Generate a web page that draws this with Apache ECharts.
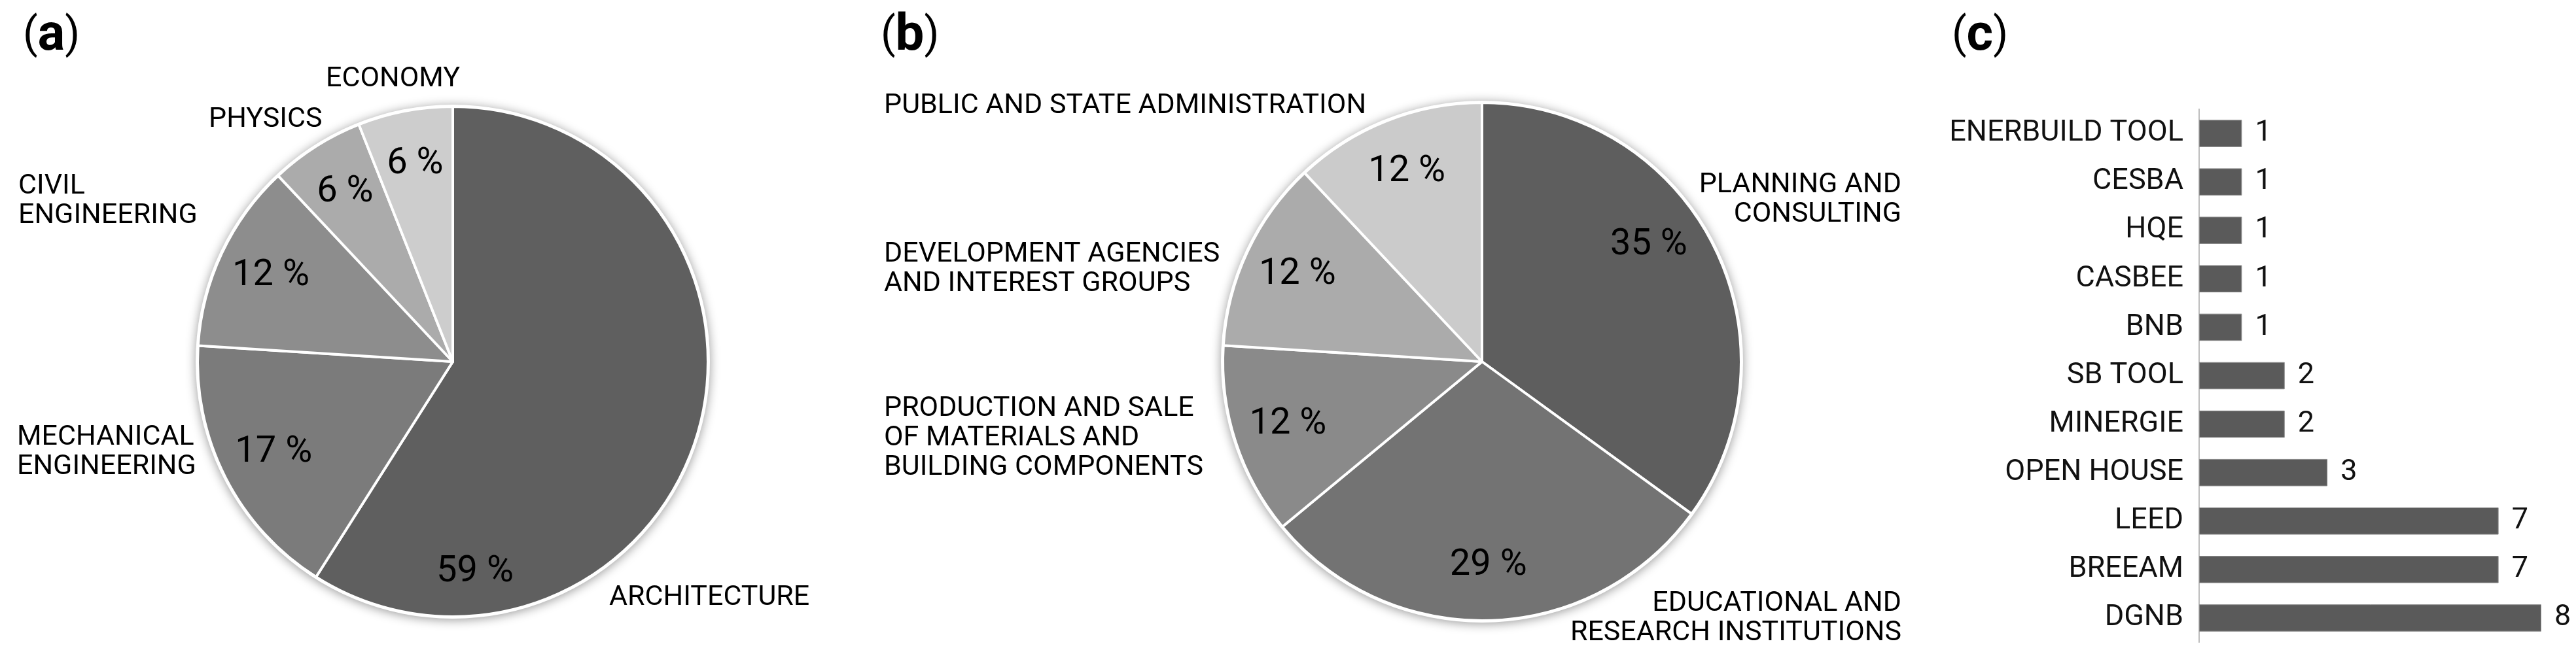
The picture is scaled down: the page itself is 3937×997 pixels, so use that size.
<!DOCTYPE html>
<html><head><meta charset="utf-8">
<script src="https://cdn.jsdelivr.net/npm/echarts@6/dist/echarts.min.js"></script>
<style>html,body{margin:0;padding:0;background:#fff}#c{width:3937px;height:997px}</style>
</head><body><div id="c"></div>
<script>
// ---- data ----
const fieldNames = ['ARCHITECTURE', 'MECHANICAL\nENGINEERING', 'CIVIL\nENGINEERING', 'PHYSICS', 'ECONOMY'];
const fieldShares = [59, 17, 12, 6, 6];
const sectorNames = ['PLANNING AND\nCONSULTING', 'EDUCATIONAL AND\nRESEARCH INSTITUTIONS',
  'PRODUCTION AND SALE\nOF MATERIALS AND\nBUILDING COMPONENTS', 'DEVELOPMENT AGENCIES\nAND INTEREST GROUPS',
  'PUBLIC AND STATE ADMINISTRATION'];
const sectorShares = [35, 29, 12, 12, 12];
const toolNames = ['ENERBUILD TOOL', 'CESBA', 'HQE', 'CASBEE', 'BNB', 'SB TOOL', 'MINERGIE', 'OPEN HOUSE', 'LEED', 'BREEAM', 'DGNB'];
const toolCounts = [1, 1, 1, 1, 1, 2, 2, 3, 7, 7, 8];
const panelLetters = ['a', 'b', 'c'];

// ---- layout / style ----
const FONT = 'Roboto, "Liberation Sans", Arial, sans-serif';
const pieA = {
  center: [692, 553], r: 390,
  colors: ['#5f5f5f', '#7b7b7b', '#8d8d8d', '#ababab', '#cdcdcd'],
  namePos: [[931, 914, 'left'], [26, 692, 'left'], [28, 308, 'left'], [319, 183, 'left'], [498, 121, 'left']],
  pctOffset: [[-261, 236], [0, 0], [0, 0], [0, 0], [0, 0]]
};
const pieB = {
  center: [2265, 553], r: 396,
  colors: ['#5e5e5e', '#737373', '#8a8a8a', '#ababab', '#cbcbcb'],
  namePos: [[2906, 306, 'right'], [2906, 946, 'right'], [1351, 670, 'left'], [1351, 412, 'left'], [1351, 162, 'left']],
  pctOffset: [[-23, -36], [0, 0], [0, 0], [0, 0], [0, 0]]
};
const titlePos = [[35, 56], [1346, 56], [2983, 56]];

function pieSeries(cfg, names, values) {
  const data = names.map((n, i) => ({ name: n, value: values[i], itemStyle: { color: cfg.colors[i] } }));
  return [
    { // backdrop with soft shadow
      type: 'pie', silent: true, center: cfg.center, radius: cfg.r + 3, startAngle: 90,
      data: [{ value: 1, name: '' }], label: { show: false }, labelLine: { show: false },
      itemStyle: { color: '#ffffff', shadowBlur: 16, shadowColor: 'rgba(0,0,0,0.40)', shadowOffsetY: 2 }
    },
    { // slices + category names
      type: 'pie', center: cfg.center, radius: cfg.r, startAngle: 90, clockwise: true,
      avoidLabelOverlap: false, data: data,
      itemStyle: { borderColor: '#ffffff', borderWidth: 4 },
      label: { show: true, position: 'outside', formatter: '{b}', fontFamily: FONT, fontSize: 43, lineHeight: 45, color: '#000' },
      labelLine: { show: false },
      labelLayout: p => { const q = cfg.namePos[p.dataIndex]; return { x: q[0], y: q[1], align: q[2], verticalAlign: 'middle' }; },
      emphasis: { disabled: true }
    },
    { // percentage labels
      type: 'pie', silent: true, center: cfg.center, radius: [cfg.r * 0.56, cfg.r], startAngle: 90, clockwise: true,
      avoidLabelOverlap: false, data: names.map((n, i) => ({ name: n, value: values[i] })),
      itemStyle: { color: 'rgba(0,0,0,0)', borderWidth: 0 },
      label: { show: true, position: 'inside', formatter: '{c} %', fontFamily: FONT, fontSize: 56, color: '#000' },
      labelLine: { show: false },
      labelLayout: p => { const o = cfg.pctOffset[p.dataIndex]; return { dx: o[0], dy: o[1] }; },
      emphasis: { disabled: true }
    }
  ];
}

const chart = echarts.init(document.getElementById('c'), null, { renderer: 'canvas' });
chart.setOption({
  backgroundColor: '#ffffff',
  animation: false,
  textStyle: { fontFamily: FONT },
  graphic: panelLetters.map((l, i) => ({
    type: 'text', x: titlePos[i][0], y: titlePos[i][1],
    style: {
      text: '{p|(}{b|' + l + '}{p|)}', align: 'left', verticalAlign: 'middle',
      rich: {
        p: { fontSize: 66, fontFamily: FONT, fill: '#000', fontWeight: 'normal' },
        b: { fontSize: 78, fontFamily: FONT, fill: '#000', fontWeight: 'bold' }
      }
    }
  })),
  grid: { left: 3361, top: 167, width: 523, height: 815, containLabel: false, outerBoundsMode: 'none' },
  xAxis: { type: 'value', min: 0, max: 8, show: false },
  yAxis: {
    type: 'category', data: toolNames, inverse: true,
    axisLine: { show: true, lineStyle: { color: '#bdbdbd', width: 2 } },
    axisTick: { show: false },
    axisLabel: { margin: 24, fontSize: 45, color: '#111', fontFamily: FONT },
    splitLine: { show: false }
  },
  series: [
    ...pieSeries(pieA, fieldNames, fieldShares),
    ...pieSeries(pieB, sectorNames, sectorShares),
    {
      type: 'bar', data: toolCounts, barCategoryGap: '44%',
      itemStyle: { color: '#5a5a5a', borderColor: '#8a8a8a', borderWidth: 1 },
      label: { show: true, position: 'right', distance: 20, fontSize: 45, color: '#111', fontFamily: FONT },
      emphasis: { disabled: true }
    }
  ]
});
</script>
</body></html>
